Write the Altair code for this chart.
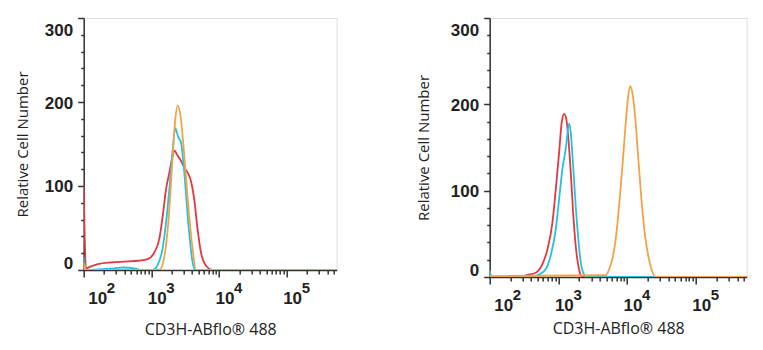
import altair as alt
import pandas as pd

# ---------------- data ----------------
X_MAX = 549541

# Left panel
L_RED_X = [100, 108, 126, 162, 257, 398, 631, 885, 1107, 1312, 1472, 1648, 1845, 2070, 2188,
           2449, 2742, 3069, 3436, 3846, 4305, 4831, 5408, 6457, 8035, 549541]
L_RED_Y = [100, 2, 4, 7, 9, 10, 11, 13, 21, 37, 64, 96, 116, 136, 142,
           136, 130, 122, 116, 106, 84, 48, 21, 5, 0, 0]

L_CYAN_X = [100, 104, 282, 398, 562, 708, 1047, 1390, 1648, 1845, 2070, 2259, 2500, 2742,
            3069, 3516, 4074, 4467, 549541]
L_CYAN_Y = [16, 0, 2, 3, 2, 0, 0, 17, 56, 96, 144, 169, 158, 152,
            116, 56, 9, 0, 0]

L_ORANGE_X = [100, 106, 1312, 1549, 1778, 2070, 2259, 2449, 2742, 3069, 3516, 4074, 4571, 549541]
L_ORANGE_Y = [8, 0, 0, 15, 56, 136, 179, 196, 179, 136, 76, 25, 0, 0]

# Right panel
R_RED_X = [100, 282, 334, 468, 585, 692, 818, 914, 1023, 1117, 1211, 1309, 1400, 1514, 1637,
           1786, 1995, 2239, 549541]
R_RED_Y = [0, 0, 2, 5, 15, 32, 63, 101, 144, 179, 189, 182, 159, 121, 75,
           36, 9, 0, 0]

R_CYAN_X = [100, 106, 398, 525, 653, 773, 914, 1023, 1143, 1276, 1432, 1514, 1637, 1786,
            1950, 2113, 2366, 2630, 549541]
R_CYAN_Y = [8, 0, 0, 3, 9, 25, 55, 90, 125, 148, 178, 167, 129, 82,
            44, 17, 3, 0, 0]

R_ORANGE_X = [100, 4887, 5470, 6109, 6823, 7638, 8551, 9550, 10351, 11066, 11940, 13062,
              14454, 16144, 18030, 20230, 22594, 26062, 549541]
R_ORANGE_Y = [1, 2, 9, 21, 44, 82, 129, 179, 209, 221, 213, 186,
              140, 90, 51, 25, 9, 0, 0]

# Axis ticks / labels
Y_TICKS = [0, 20, 40, 60, 80, 100, 120, 140, 160, 180, 200, 220, 240, 260, 280, 300]
Y_LABELED = [0, 100, 200, 300]
X_TICKS = [100, 200, 300, 400, 500, 600, 700, 800, 900,
           1000, 2000, 3000, 4000, 5000, 6000, 7000, 8000, 9000,
           10000, 20000, 30000, 40000, 50000, 60000, 70000, 80000, 90000,
           100000, 200000, 300000, 400000, 500000]
X_LABELED = [100, 1000, 10000, 100000]
X_EXPONENTS = ["2", "3", "4", "5"]

X_TITLE = "CD3H-ABflo\u00ae 488"
Y_TITLE = "Relative Cell Number"

RED = "#E8363E"
CYAN = "#22C3E0"
ORANGE = "#F2A347"

# ---------------- axes ----------------
x_major_test = " || ".join(f"datum.value == {v}" for v in X_LABELED)
y_major_test = " || ".join(f"datum.value == {v}" for v in Y_LABELED)


def make_x_axis(title_pad):
    return alt.Axis(
        values=X_TICKS, labelExpr=f"({x_major_test}) ? '10' : ''", title=X_TITLE, grid=False,
        labelAlign="left", labelBaseline="top",
        labelOffset={"condition": {"test": "datum.value == 100", "value": 4}, "value": -4},
        labelOverlap=False, labelFlush=False, labelPadding=14,
        labelFont="Liberation Sans", labelFontSize=17, labelFontWeight="bold", labelColor="#222",
        tickSize={"condition": {"test": x_major_test, "value": 7}, "value": 4},
        tickWidth=1.5, tickColor="#333", domainColor="#333", domainWidth=1.5,
        titleFont="Open Sans", titleFontSize=16, titleFontWeight="normal", titleColor="#222",
        titlePadding=title_pad,
    )


def make_y_axis(title_pad):
    return alt.Axis(
        values=Y_TICKS, labelExpr=f"({y_major_test}) ? datum.label : ''", title=Y_TITLE, grid=False,
        labelOffset={"condition": [{"test": "datum.value == 300", "value": 12},
                                   {"test": "datum.value == 0", "value": -6}], "value": 1},
        labelOverlap=False, labelFlush=False, labelPadding=5,
        labelFont="Liberation Sans", labelFontSize=17, labelFontWeight="bold", labelColor="#222",
        tickSize={"condition": {"test": y_major_test, "value": 6}, "value": 3},
        tickWidth=1.5, tickColor="#333", domainColor="#333", domainWidth=1.5,
        titleFont="Open Sans", titleFontSize=15, titleFontWeight="normal", titleColor="#222",
        titlePadding=title_pad,
    )


def panel(series, width, height, xpad, ypad, exp_dy, title=None):
    x_scale = alt.Scale(type="log", domain=[100, X_MAX], nice=False)
    y_scale = alt.Scale(domain=[0, 300], nice=False)
    x_axis = make_x_axis(xpad)
    y_axis = make_y_axis(ypad)
    layers = []
    for xs, ys, color in series:
        df = pd.DataFrame({"x": xs, "y": ys})
        layers.append(
            alt.Chart(df).mark_line(color=color, strokeWidth=1.8, interpolate="monotone", clip=True)
            .encode(x=alt.X("x:Q", scale=x_scale, axis=x_axis),
                    y=alt.Y("y:Q", scale=y_scale, axis=y_axis))
        )
    # exponents of the decade labels (10^k), placed next to the "10" axis labels
    exp_df = pd.DataFrame({"x": X_LABELED, "e": X_EXPONENTS, "y": [0, 0, 0, 0]})
    for sel, dx in [(lambda d: d[d.x == X_LABELED[0]], 23), (lambda d: d[d.x != X_LABELED[0]], 15)]:
        layers.append(
            alt.Chart(sel(exp_df)).mark_text(align="left", baseline="top", dx=dx, dy=exp_dy,
                                              font="Liberation Sans", fontSize=15, fontWeight="bold",
                                              color="#222")
            .encode(x=alt.X("x:Q", scale=x_scale, axis=x_axis),
                    y=alt.Y("y:Q", scale=y_scale, axis=y_axis),
                    text="e:N")
        )
    ch = alt.layer(*layers).properties(width=width, height=height)
    if title is not None:
        ch = ch.properties(title=title)
    return ch


left = panel([(L_RED_X, L_RED_Y, RED), (L_CYAN_X, L_CYAN_Y, CYAN), (L_ORANGE_X, L_ORANGE_Y, ORANGE)],
             253, 252, 15, 14, 11.5,
             title=alt.TitleParams(text=" ", fontSize=1, offset=2.7))
right = panel([(R_RED_X, R_RED_Y, RED), (R_CYAN_X, R_CYAN_Y, CYAN), (R_ORANGE_X, R_ORANGE_Y, ORANGE)],
              257, 259, 6.5, 19, 10.7)

chart = (
    alt.hconcat(left, right, spacing=78)
    .properties(padding={"left": 6.7, "top": 5, "right": 5, "bottom": 5})
    .configure_view(stroke="#777", strokeWidth=1)
    .configure(background="white")
)

chart.save("out.html", embed_options={"renderer": "svg", "actions": False})
